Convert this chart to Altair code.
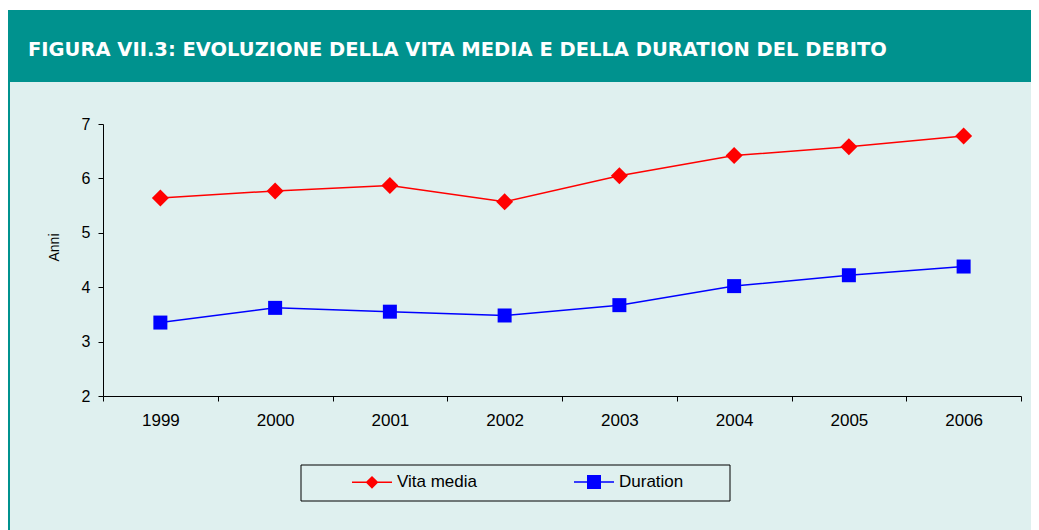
import altair as alt
import pandas as pd

years = ["1999", "2000", "2001", "2002", "2003", "2004", "2005", "2006"]
vita_media = [5.64, 5.77, 5.87, 5.57, 6.05, 6.42, 6.58, 6.78]
duration = [3.35, 3.62, 3.55, 3.48, 3.67, 4.02, 4.22, 4.38]
series_names = ["Vita media", "Duration"]
series_colors = ["#ff0000", "#0000ff"]
y_ticks = [2, 3, 4, 5, 6, 7]
title_text = "FIGURA VII.3: EVOLUZIONE DELLA VITA MEDIA E DELLA DURATION DEL DEBITO"
y_title = "Anni"

TEAL = "#00928e"
LIGHT = "#dff0ef"

rows = []
for i, yr in enumerate(years):
    rows.append({"year": yr, "series": series_names[0], "value": vita_media[i]})
    rows.append({"year": yr, "series": series_names[1], "value": duration[i]})
df = pd.DataFrame(rows)
one = pd.DataFrame({"t": [title_text]})

x_enc = alt.X("year:O", sort=years,
              scale=alt.Scale(type="band", paddingInner=0, paddingOuter=0),
              axis=alt.Axis(title=None, labelAngle=0, tickBand="extent",
                            labelFontSize=17, labelPadding=11, zindex=1))
y_enc = alt.Y("value:Q",
              scale=alt.Scale(domain=[2, 7], nice=False, zero=False),
              axis=alt.Axis(values=y_ticks, title=y_title, labelFontSize=16,
                            labelPadding=8, titleFontSize=14, titleFontWeight="normal",
                            titleX=-45, titleY=123, titleAlign="center",
                            titleBaseline="alphabetic", titleAngle=270, zindex=1))

# Decorative frame (chart background is the light panel colour)
top_strip = alt.Chart(one).mark_rect(color="white").encode(
    x=alt.value(-95), x2=alt.value(928), y=alt.value(-116), y2=alt.value(-114))
header_band = alt.Chart(one).mark_rect(color=TEAL).encode(
    x=alt.value(-95), x2=alt.value(928), y=alt.value(-114), y2=alt.value(-42))
left_strip = alt.Chart(one).mark_rect(color=TEAL).encode(
    x=alt.value(-95), x2=alt.value(-93), y=alt.value(-114), y2=alt.value(406))
header = alt.Chart(one).mark_text(
    align="left", baseline="alphabetic", font="DejaVu Sans", fontWeight="bold",
    fontSize=19.5, color="white").encode(
    text="t:N", x=alt.value(-75), y=alt.value(-68.5))
legend_box = alt.Chart(one).mark_rect(fillOpacity=0, stroke="black", strokeWidth=1).encode(
    x=alt.value(198), x2=alt.value(627), y=alt.value(341), y2=alt.value(377))

base = alt.Chart(df)
vita = base.transform_filter(alt.datum.series == series_names[0])
dur = base.transform_filter(alt.datum.series == series_names[1])
line_v = vita.mark_line(strokeWidth=1.5, color=series_colors[0]).encode(x=x_enc, y=y_enc)
line_d = dur.mark_line(strokeWidth=1.5, color=series_colors[1]).encode(x=x_enc, y=y_enc)
pts_v = vita.mark_point(shape="diamond", filled=True, size=289, opacity=1,
                        color=series_colors[0]).encode(x=x_enc, y=y_enc)
pts_d = dur.mark_point(shape="square", filled=True, size=196, opacity=1,
                       color=series_colors[1]).encode(x=x_enc, y=y_enc)

# legend symbols: a thin bar (the line) plus the marker, both filled
diamond_path = "M-1,-0.04L1,-0.04L1,0.04L-1,0.04Z M0,-0.32L0.32,0L0,0.32L-0.32,0Z"
square_path = "M-1,-0.04L1,-0.04L1,0.04L-1,0.04Z M-0.35,-0.35L0.35,-0.35L0.35,0.35L-0.35,0.35Z"
leg = alt.Legend(title=None, orient="none", legendX=248, legendY=337,
                 direction="horizontal", columnPadding=93,
                 labelFontSize=17, labelFont="Liberation Sans",
                 labelColor="black", symbolSize=1600, labelOffset=4, zindex=1)
legend_layer = base.mark_point(filled=True, opacity=1).encode(
    x=x_enc,
    y=alt.value(-5000),
    fill=alt.Fill("series:N", scale=alt.Scale(domain=series_names, range=series_colors), legend=leg),
    shape=alt.Shape("series:N", scale=alt.Scale(domain=series_names, range=[diamond_path, square_path]),
                    legend=leg),
)

chart = alt.layer(top_strip, header_band, left_strip, header, legend_box,
                  line_v, line_d, pts_v, pts_d, legend_layer).properties(
    width=918, height=272,
    autosize=alt.AutoSizeParams(type="none"),
    padding={"left": 95, "top": 116, "right": 10, "bottom": 134},
    background=LIGHT,
).configure_view(stroke=None).configure_axis(
    labelFont="Liberation Sans", titleFont="Liberation Sans", labelColor="black",
    titleColor="black", domainColor="black", tickColor="black", tickSize=5,
    grid=False, domainWidth=1, tickWidth=1,
)

chart.save("out.html", embed_options={"renderer": "svg", "actions": False})
